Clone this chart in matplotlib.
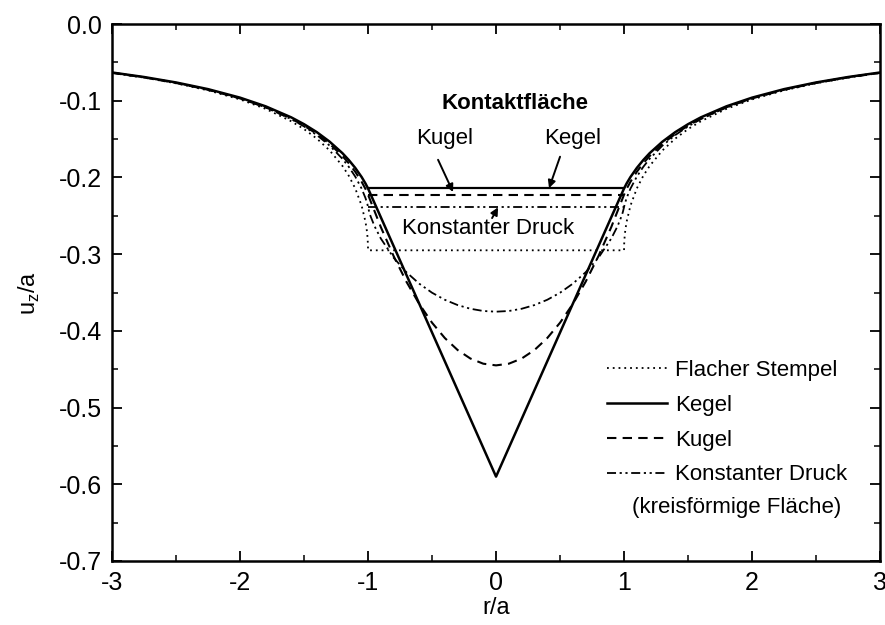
import numpy as np
import matplotlib
matplotlib.use("Agg")
import matplotlib.pyplot as plt
from matplotlib.ticker import MultipleLocator

plt.rcParams.update({
    "font.family": ["Liberation Sans", "DejaVu Sans"],
    "mathtext.fontset": "custom", "mathtext.rm": "Liberation Sans",
    "xtick.direction": "in", "ytick.direction": "in",
    "xtick.top": True, "ytick.right": True,
})

# half profiles (r/a >= 0); mirrored for r < 0
R_FLAT = [0, 1.0, 1.001, 1.005, 1.01, 1.02, 1.05, 1.1, 1.15, 1.2, 1.3, 1.4, 1.5, 1.6,
          1.8, 2.0, 2.25, 2.5, 2.75, 3.0]
U_FLAT = [-0.295, -0.295, -0.2866, -0.2763, -0.2686, -0.2578, -0.2368, -0.2143, -0.1980,
          -0.1850, -0.1648, -0.1494, -0.1370, -0.1268, -0.1106, -0.0983, -0.0865, -0.0773,
          -0.0699, -0.0638]

R_CONE = [0, 1.0, 1.02, 1.05, 1.1, 1.15, 1.2, 1.3, 1.4, 1.5, 1.6, 1.8, 2.0, 2.25, 2.5,
          2.75, 3.0]
U_CONE = [-0.590, -0.2144, -0.2079, -0.1995, -0.1876, -0.1774, -0.1684, -0.1534, -0.1410,
          -0.1306, -0.1217, -0.1073, -0.0960, -0.0849, -0.0762, -0.0691, -0.0632]

R_SPH = [0, 0.1, 0.2, 0.3, 0.4, 0.5, 0.6, 0.7, 0.8, 0.9, 1.0, 1.02, 1.05, 1.1, 1.15, 1.2,
         1.3, 1.4, 1.5, 1.6, 1.8, 2.0, 2.25, 2.5, 2.75, 3.0]
U_SPH = [-0.4450, -0.4428, -0.4361, -0.4250, -0.4094, -0.3894, -0.3649, -0.3360, -0.3026,
         -0.2648, -0.2225, -0.2150, -0.2057, -0.1926, -0.1816, -0.1721, -0.1562, -0.1433,
         -0.1325, -0.1234, -0.1085, -0.0970, -0.0857, -0.0768, -0.0696, -0.0637]

R_PRES = [0, 0.1, 0.2, 0.3, 0.4, 0.5, 0.6, 0.7, 0.8, 0.9, 0.95, 0.98, 0.99, 1.0, 1.005,
          1.02, 1.05, 1.1, 1.15, 1.2, 1.3, 1.4, 1.5, 1.6, 1.8, 2.0, 2.25, 2.5, 2.75, 3.0]
U_PRES = [-0.3750, -0.3741, -0.3712, -0.3664, -0.3595, -0.3503, -0.3385, -0.3236, -0.3047,
          -0.2797, -0.2633, -0.2507, -0.2455, -0.2387, -0.2349, -0.2269, -0.2146, -0.1989,
          -0.1863, -0.1757, -0.1585, -0.1448, -0.1335, -0.1240, -0.1087, -0.0970, -0.0856,
          -0.0766, -0.0693, -0.0634]

# contact-area marks (edge level of each profile, spanning -1..1)
CONTACT_X = [-1.0, 1.0]
CONTACT_CONE = -0.2144
CONTACT_SPH = -0.2225
CONTACT_PRES = -0.2387

LABELS = ["Flacher Stempel", "Kegel", "Kugel", "Konstanter Druck"]

DOT = (0, (1.0, 2.2))
DASH = (0, (4.5, 3.0))
DDOT = (0, (5.0, 2.0, 1.2, 2.0, 1.2, 2.0))


def mirror(r, u):
    r = np.asarray(r, float); u = np.asarray(u, float)
    return np.concatenate([-r[:0:-1], r]), np.concatenate([u[:0:-1], u])


fig = plt.figure(figsize=(8.85, 6.25), dpi=100)
ax = fig.add_axes([0.1266, 0.1024, 0.8678, 0.8592])

xs, ys = mirror(R_FLAT, U_FLAT)
h_flat, = ax.plot(xs, ys, color="k", lw=1.3, ls=DOT)
xs, ys = mirror(R_CONE, U_CONE)
h_cone, = ax.plot(xs, ys, color="k", lw=1.8, ls="-")
xs, ys = mirror(R_SPH, U_SPH)
h_sph, = ax.plot(xs, ys, color="k", lw=1.5, ls=DASH)
xs, ys = mirror(R_PRES, U_PRES)
h_pres, = ax.plot(xs, ys, color="k", lw=1.3, ls=DDOT)

ax.plot(CONTACT_X, [CONTACT_CONE] * 2, color="k", lw=1.6, ls="-")
ax.plot(CONTACT_X, [CONTACT_SPH] * 2, color="k", lw=1.5, ls=DASH)
ax.plot(CONTACT_X, [CONTACT_PRES] * 2, color="k", lw=1.3, ls=DDOT)

fs = 16
arrow = dict(arrowstyle="-|>", color="k", lw=1.4, mutation_scale=11, shrinkA=0, shrinkB=0)
ax.text(0.15, -0.103, "Kontaktfläche", fontsize=fs, fontweight="bold", ha="center", va="center")
ax.text(-0.40, -0.149, "Kugel", fontsize=fs, ha="center", va="center")
ax.text(0.60, -0.149, "Kegel", fontsize=fs, ha="center", va="center")
ax.text(-0.06, -0.266, "Konstanter Druck", fontsize=fs, ha="center", va="center")
ax.annotate("", xy=(-0.336, -0.219), xytext=(-0.453, -0.177), arrowprops=arrow)
ax.annotate("", xy=(0.414, -0.214), xytext=(0.50, -0.173), arrowprops=arrow)
ax.annotate("", xy=(0.016, -0.239), xytext=(-0.031, -0.253), arrowprops=arrow)

leg = ax.legend([h_flat, h_cone, h_sph, h_pres], LABELS, loc="upper left",
                bbox_to_anchor=(0.6445, 0.374), frameon=False, fontsize=fs,
                handlelength=2.7, handletextpad=0.35, labelspacing=0.62,
                borderpad=0, borderaxespad=0)
ax.text(0.8138, 0.0987, "(kreisförmige Fläche)", transform=ax.transAxes, fontsize=fs,
        ha="center", va="center")

ax.set_xlim(-3, 3)
ax.set_ylim(-0.7, 0.0)
ax.xaxis.set_major_locator(MultipleLocator(1))
ax.xaxis.set_minor_locator(MultipleLocator(0.5))
ax.yaxis.set_major_locator(MultipleLocator(0.1))
ax.yaxis.set_minor_locator(MultipleLocator(0.05))
ax.xaxis.set_major_formatter(plt.FuncFormatter(lambda v, p: f"{v:.0f}" if abs(v) > 1e-9 else "0"))
ax.yaxis.set_major_formatter(plt.FuncFormatter(lambda v, p: "0.0" if abs(v) < 1e-9 else f"{v:.1f}"))
ax.tick_params(which="major", length=7, width=1.3, labelsize=18, pad=7)
ax.tick_params(which="minor", length=4, width=1.1)
for s in ax.spines.values():
    s.set_linewidth(1.8)

ax.set_xlabel("r/a", fontsize=17, labelpad=2)
ax.set_ylabel(r"u$_\mathregular{z}$/a", fontsize=17, labelpad=12)

fig.savefig("out.png", dpi=100, facecolor="white")
